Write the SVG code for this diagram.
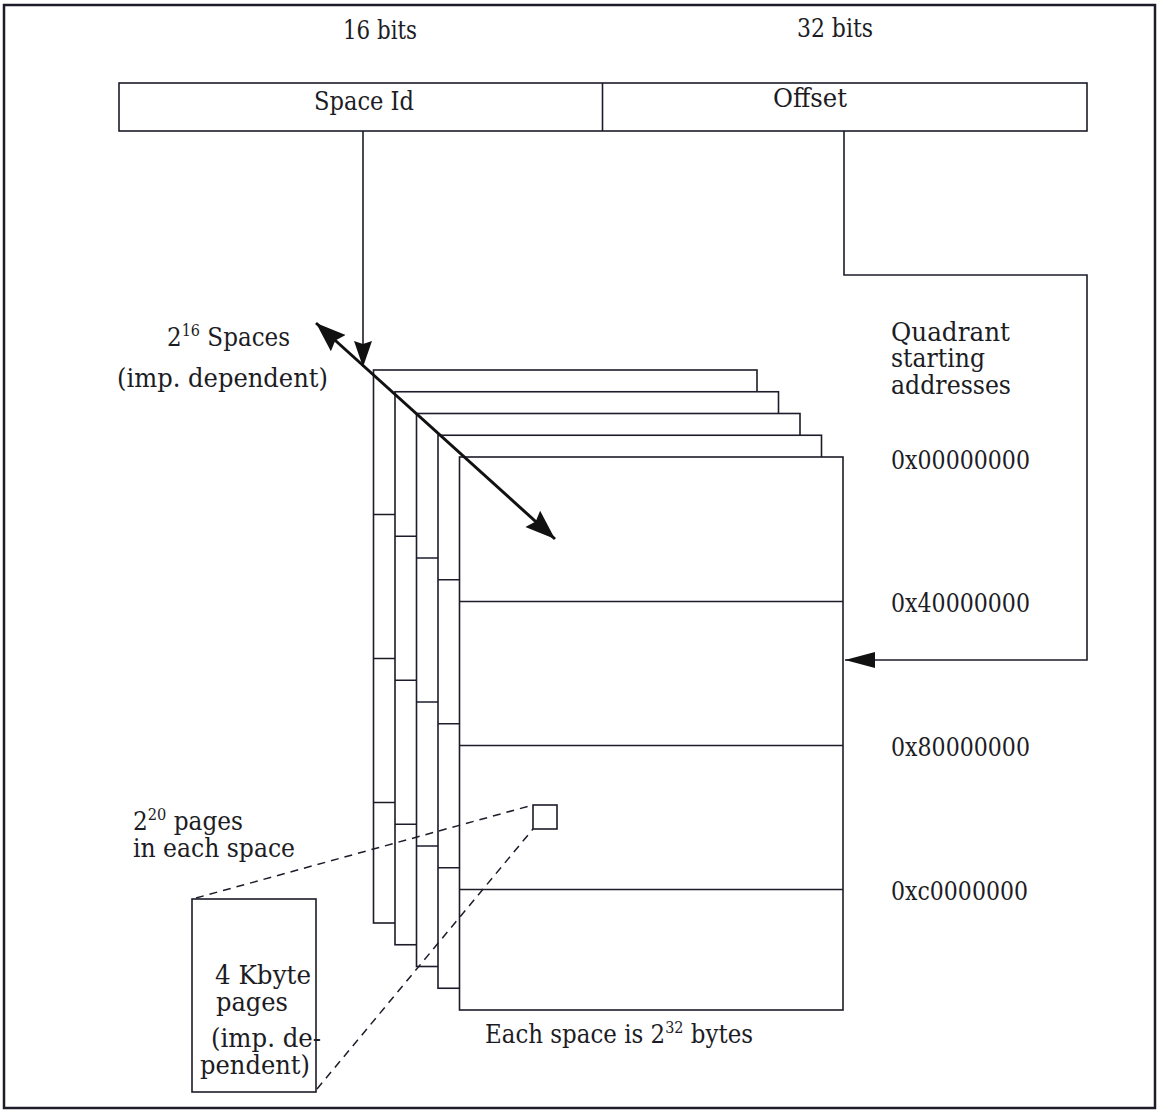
<svg xmlns="http://www.w3.org/2000/svg" width="1159" height="1113" viewBox="0 0 1159 1113">
<style>
  .ln{fill:none;stroke:#1c1c2a;stroke-width:1.6}
  .pg{fill:#fff;stroke:#1c1c2a;stroke-width:1.6}
  .t{font-family:"DejaVu Serif","Liberation Serif",serif;font-size:25.5px;fill:#1c1c24}
  .sup{font-size:16px}
  .dash{fill:none;stroke:#1c1c2a;stroke-width:1.5;stroke-dasharray:8 6}
</style>
<defs>
  <marker id="ah" markerUnits="userSpaceOnUse" markerWidth="34" markerHeight="24" refX="30" refY="11" orient="auto-start-reverse">
    <path d="M0,0 L30,11 L0,22 L4,11 Z" fill="#111"/>
  </marker>
  <marker id="ahv" markerUnits="userSpaceOnUse" markerWidth="30" markerHeight="20" refX="26" refY="9" orient="auto">
    <path d="M0,0 L26,9 L0,18 L3,9 Z" fill="#111"/>
  </marker>
  <marker id="ah2" markerUnits="userSpaceOnUse" markerWidth="32" markerHeight="20" refX="30" refY="8" orient="auto">
    <path d="M0,0 L30,8 L0,16 Z" fill="#111"/>
  </marker>
  <g id="space">
    <rect class="pg" x="0" y="0" width="383.5" height="553"/>
    <line class="ln" x1="0" y1="144.5" x2="383.5" y2="144.5"/>
    <line class="ln" x1="0" y1="288.5" x2="383.5" y2="288.5"/>
    <line class="ln" x1="0" y1="432.5" x2="383.5" y2="432.5"/>
  </g>
</defs>
<rect x="0" y="0" width="1159" height="1113" fill="#fff"/>
<rect x="4" y="5" width="1151" height="1103" fill="none" stroke="#1c1c2a" stroke-width="2.5"/>

<g id="widths">
  <text class="t" x="380" y="39" text-anchor="middle" textLength="74" lengthAdjust="spacingAndGlyphs">16 bits</text>
  <text class="t" x="835" y="37" text-anchor="middle" textLength="76" lengthAdjust="spacingAndGlyphs">32 bits</text>
</g>

<g id="address">
  <rect class="pg" x="119" y="83" width="968" height="48"/>
  <line class="ln" x1="602.5" y1="83" x2="602.5" y2="131"/>
  <text class="t" x="364" y="110" text-anchor="middle" textLength="100" lengthAdjust="spacingAndGlyphs">Space Id</text>
  <text class="t" x="810" y="107" text-anchor="middle" textLength="74" lengthAdjust="spacingAndGlyphs">Offset</text>
</g>

<g id="spaces">
  <use href="#space" x="373.5" y="370"/>
  <use href="#space" x="395" y="391.75"/>
  <use href="#space" x="416.5" y="413.5"/>
  <use href="#space" x="438" y="435.25"/>
  <use href="#space" x="459.5" y="457"/>
</g>

<g id="page-small">
  <rect class="pg" x="533" y="805" width="24" height="24"/>
</g>

<g id="page-box">
  <rect class="ln" x="192" y="899" width="124" height="193"/>
  <text class="t" x="215" y="984" textLength="96" lengthAdjust="spacingAndGlyphs">4 Kbyte</text>
  <text class="t" x="216" y="1011" textLength="72" lengthAdjust="spacingAndGlyphs">pages</text>
  <text class="t" x="211" y="1047" textLength="110" lengthAdjust="spacingAndGlyphs">(imp. de-</text>
  <text class="t" x="200" y="1074" textLength="110" lengthAdjust="spacingAndGlyphs">pendent)</text>
</g>

<g id="labels">
  <text class="t" x="167" y="346" textLength="123" lengthAdjust="spacingAndGlyphs">2<tspan class="sup" dy="-10">16</tspan><tspan dy="10"> Spaces</tspan></text>
  <text class="t" x="117" y="387" textLength="211" lengthAdjust="spacingAndGlyphs">(imp. dependent)</text>
  <text class="t" x="891" y="341" textLength="119" lengthAdjust="spacingAndGlyphs">Quadrant</text>
  <text class="t" x="891" y="367" textLength="94" lengthAdjust="spacingAndGlyphs">starting</text>
  <text class="t" x="891" y="394" textLength="120" lengthAdjust="spacingAndGlyphs">addresses</text>
  <text class="t" x="891" y="469" textLength="139" lengthAdjust="spacingAndGlyphs">0x00000000</text>
  <text class="t" x="891" y="612" textLength="139" lengthAdjust="spacingAndGlyphs">0x40000000</text>
  <text class="t" x="891" y="756" textLength="139" lengthAdjust="spacingAndGlyphs">0x80000000</text>
  <text class="t" x="891" y="900" textLength="137" lengthAdjust="spacingAndGlyphs">0xc0000000</text>
  <text class="t" x="133" y="830" textLength="110" lengthAdjust="spacingAndGlyphs">2<tspan class="sup" dy="-10">20</tspan><tspan dy="10"> pages</tspan></text>
  <text class="t" x="133" y="857" textLength="162" lengthAdjust="spacingAndGlyphs">in each space</text>
  <text class="t" x="485" y="1043" textLength="268" lengthAdjust="spacingAndGlyphs">Each space is 2<tspan class="sup" dy="-10">32</tspan><tspan dy="10"> bytes</tspan></text>
</g>

<g id="connectors">
  <line class="ln" x1="363" y1="131" x2="363" y2="367" marker-end="url(#ahv)"/>
  <polyline class="ln" points="844,131 844,275 1087,275 1087,660 845,660" marker-end="url(#ah2)"/>
  <line x1="316" y1="323" x2="555" y2="539" stroke="#111" stroke-width="3" marker-start="url(#ah)" marker-end="url(#ah)"/>
  <line class="dash" x1="196" y1="898" x2="533" y2="805"/>
  <line class="dash" x1="317" y1="1089" x2="533" y2="829"/>
</g>
</svg>
